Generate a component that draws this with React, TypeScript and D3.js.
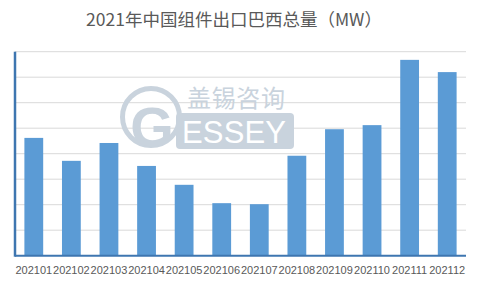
import React from "react";
import * as d3 from "d3";

const title = "2021年中国组件出口巴西总量（MW）";
const months = ["202101","202102","202103","202104","202105","202106","202107","202108","202109","202110","202111","202112"];
const values = [231, 186, 221, 176, 139, 103, 101, 196, 248, 256, 384, 360];
const yTicks = [0, 50, 100, 150, 200, 250, 300, 350, 400];

const W = 480, H = 288;
const left = 15, right = 466, top = 51.7, bottom = 255.7;

export default function App() {
  const x = d3.scaleBand<string>().domain(months).range([left, right]).paddingInner(0.5).paddingOuter(0.25);
  const y = d3.scaleLinear().domain([0, 400]).range([bottom, top]);
  const wm = "#c9d3dd";
  return (
    <div style={{ position: "fixed", left: 0, top: 0 }}>
      <svg width={W} height={H} style={{ display: "block", background: "#fff" }}>
        <text x={234} y={26} textAnchor="middle" fontFamily="'Noto Sans CJK SC', 'Noto Sans', sans-serif" fontSize={17.5} fill="#595959">{title}</text>
        {yTicks.slice(1).map(t => (
          <line key={t} x1={left} x2={right} y1={y(t)} y2={y(t)} stroke="#d9d9d9" strokeWidth={1} />
        ))}
        {/* watermark */}
        <g>
          <circle cx={151} cy={117} r={28.5} fill="none" stroke={wm} strokeWidth={5} />
          <rect x={176} y={113} width={118} height={36} rx={4} fill={wm} />
          <text x={152} y={146} textAnchor="middle" fontFamily="'Liberation Sans', Arial, sans-serif" fontWeight="bold" fontSize={56} fill={wm}>G</text>
          <text x={234} y={143} textAnchor="middle" fontFamily="'Liberation Sans', Arial, sans-serif" fontSize={31} fill="#fff" textLength={104}>ESSEY</text>
          <text x={236} y={107} textAnchor="middle" fontFamily="'Noto Sans CJK SC', sans-serif" fontSize={24} fill={wm} textLength={98}>盖锡咨询</text>
        </g>
        {months.map((m, i) => (
          <rect key={m} x={x(m)} y={y(values[i])} width={x.bandwidth()} height={bottom - y(values[i])} fill="#5b9bd5" />
        ))}
        <line x1={left} x2={left} y1={top} y2={bottom + 1} stroke="#3e76b0" strokeWidth={2.5} />
        <line x1={left} x2={right} y1={bottom} y2={bottom} stroke="#3e76b0" strokeWidth={2} />
        {months.map(m => (
          <text key={m} x={(x(m) as number) + x.bandwidth() / 2} y={274} textAnchor="middle" fontFamily="'Liberation Sans', Arial, sans-serif" fontSize={11} fill="#595959">{m}</text>
        ))}
      </svg>
    </div>
  );
}
